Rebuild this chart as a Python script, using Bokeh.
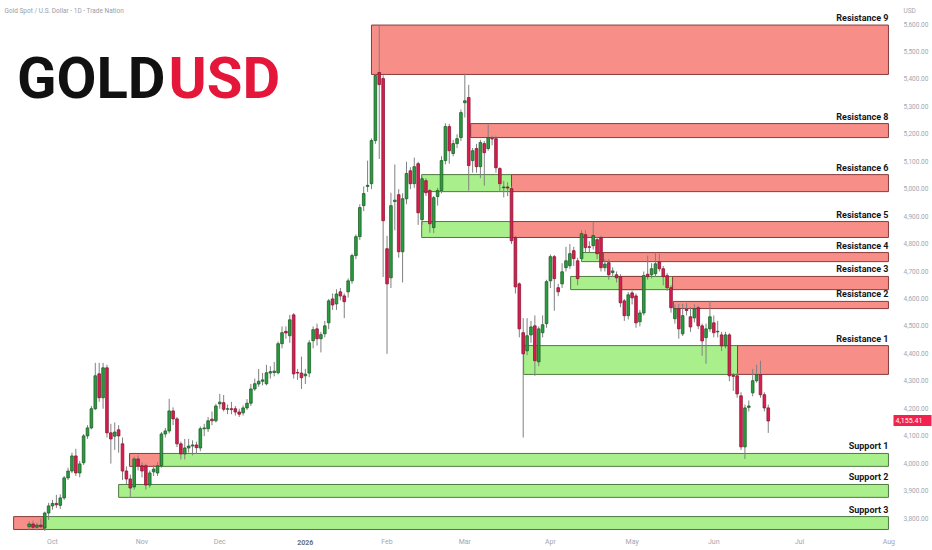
import pandas as pd
from bokeh.plotting import figure
from bokeh.models import ColumnDataSource, Range1d, FixedTicker, NumeralTickFormatter, Label, LinearAxis
from bokeh.core.properties import value
from bokeh.embed import file_html
from bokeh.resources import INLINE

# ---------------- data ----------------
holidays = ["2025-12-25", "2026-01-01", "2026-04-03"]
first_day = "2025-09-23"
last_day = "2026-06-19"

opens = [3770,3780,3768,3776,3765,3820,3846,3855,3848,3875,3948,3973,4028,3966,4003,4101,4130,4200,4327,4240,
         4349,4112,4100,4123,4072,3973,3944,3915,4017,3992,3992,3922,3970,3966,3992,4108,4119,4192,4163,4072,
         4035,4057,4064,4068,4057,4127,4127,4162,4156,4218,4222,4198,4200,4200,4188,4185,4203,4220,4272,4290,
         4300,4291,4330,4332,4331,4437,4482,4466,4542,4332,4330,4320,4330,4448,4491,4455,4473,4513,4600,4582,
         4626,4611,4626,4666,4758,4827,4940,5010,5020,5177,5425,5403,4783,4677,4955,4980,4772,4965,5067,5020,
         5093,4889,5031,4995,4860,4973,4995,5104,5228,5130,5166,5188,5315,5334,5104,5148,5082,5166,5148,5185,
         5184,5075,5005,5008,5002,4823,4655,4477,4411,4469,4502,4371,4477,4510,4666,4754,4641,4655,4714,4721,
         4776,4739,4747,4834,4790,4794,4816,4823,4714,4732,4696,4688,4681,4593,4539,4622,4611,4517,4549,4690,
         4688,4692,4735,4710,4685,4641,4528,4564,4473,4562,4535,4531,4568,4502,4459,4491,4513,4480,4469,4429,
         4469,4322,4320,4247,4061,4205,4258,4302,4324,4251,4203]
highs = [3790,3792,3785,3800,3825,3857,3868,3886,3888,3955,3985,4040,4054,4010,4108,4140,4210,4367,4367,4367,
         4360,4145,4150,4140,4095,3990,3960,4025,4030,4005,4000,3975,3995,4005,4115,4130,4236,4205,4170,4080,
         4090,4090,4085,4080,4135,4145,4170,4190,4218,4254,4250,4215,4225,4210,4200,4212,4235,4290,4310,4345,
         4330,4360,4355,4370,4445,4500,4500,4542,4548,4345,4390,4345,4450,4500,4510,4480,4520,4600,4620,4635,
         4640,4620,4675,4765,4835,4945,5010,5104,5185,5420,5598,5415,4830,4987,5090,5000,4985,5100,5080,5115,
         5100,5045,5040,5000,4975,5005,5120,5240,5238,5180,5200,5290,5421,5380,5150,5165,5180,5175,5235,5195,
         5195,5080,5030,5025,5010,4830,4660,4530,4530,4520,4540,4500,4540,4670,4762,4760,4655,4730,4790,4800,
         4790,4750,4850,4850,4810,4882,4825,4830,4745,4745,4715,4700,4690,4600,4625,4630,4620,4560,4700,4758,
         4730,4769,4765,4720,4695,4650,4580,4582,4582,4585,4570,4580,4575,4510,4510,4593,4540,4520,4480,4480,
         4475,4330,4330,4260,4215,4230,4345,4360,4375,4260,4215]
lows = [3758,3762,3757,3765,3755,3795,3832,3838,3835,3868,3940,3965,3955,3950,3995,4090,4125,4195,4225,4200,
        4095,4000,4050,4040,3940,3925,3875,3905,3975,3950,3905,3912,3955,3955,3985,4095,4110,4140,4060,4015,
        4015,4040,4030,4035,4045,4100,4115,4140,4150,4200,4190,4180,4180,4175,4170,4175,4195,4210,4265,4280,
        4285,4285,4310,4318,4325,4420,4455,4440,4310,4305,4272,4290,4315,4420,4430,4405,4460,4490,4560,4560,
        4595,4530,4605,4655,4745,4815,4920,4990,5000,5165,5110,4680,4400,4640,4850,4750,4660,4945,5000,5005,
        4870,4870,4975,4841,4840,4940,4985,5090,5093,5120,5150,5175,5261,4995,5060,5060,5040,5013,5140,5160,
        5060,4990,4970,4975,4800,4620,4460,4095,4395,4440,4320,4355,4460,4495,4640,4557,4610,4640,4700,4710,
        4720,4650,4740,4770,4770,4780,4745,4700,4700,4670,4680,4660,4570,4520,4525,4580,4495,4500,4540,4670,
        4675,4680,4700,4650,4630,4550,4510,4455,4465,4540,4480,4515,4490,4393,4364,4480,4460,4460,4410,4420,
        4300,4265,4240,4050,4017,4190,4245,4295,4240,4190,4112]
closes = [3780,3768,3776,3770,3820,3846,3855,3850,3875,3948,3973,4028,3966,3999,4101,4130,4200,4320,4240,4349,
          4112,4090,4115,4101,3973,3944,3911,4017,3992,3973,3922,3966,3980,3992,4108,4119,4192,4163,4072,4035,
          4057,4064,4068,4058,4127,4130,4156,4156,4210,4224,4198,4200,4197,4188,4180,4203,4220,4272,4291,4300,
          4305,4331,4335,4337,4437,4477,4476,4524,4327,4330,4313,4326,4440,4488,4455,4470,4502,4593,4578,4618,
          4611,4590,4666,4758,4827,4933,4984,5014,5177,5414,5381,4885,4655,4940,4960,4772,4965,5057,5020,5082,
          4914,5038,4987,4874,4969,4995,5104,5228,5140,5166,5184,5279,5322,5086,5140,5082,5170,5133,5188,5183,
          5078,5020,5008,5004,4812,4644,4491,4400,4466,4498,4375,4491,4506,4663,4754,4674,4626,4699,4739,4765,
          4747,4674,4838,4787,4788,4831,4765,4714,4727,4688,4702,4677,4586,4539,4615,4604,4513,4549,4685,4681,
          4710,4728,4710,4681,4641,4568,4564,4491,4539,4558,4498,4564,4502,4447,4491,4535,4477,4482,4429,4469,
          4320,4318,4254,4061,4203,4210,4302,4324,4251,4203,4155.41]

month_labels = ["Oct", "Nov", "Dec", "2026", "Feb", "Mar", "Apr", "May", "Jun", "Jul", "Aug"]
year_label = "2026"
price_ticks = list(range(3800, 5601, 100))
currency = "USD"
last_price = 4155.41

zone_names = ["Resistance 9", "Resistance 8", "", "Resistance 6", "", "Resistance 5", "", "Resistance 4",
              "", "", "Resistance 3", "Resistance 2", "", "Resistance 1", "", "Support 1", "Support 2", "", "Support 3"]
zone_kind = ["r", "r", "g", "r", "g", "r", "g", "r", "g", "r", "r", "r", "g", "r", "r", "g", "g", "r", "g"]
zone_start = [82, 107.5, 94.9, 118, 94.9, 118, 136, 141.6, 133.2, 146, 159.4, 159.6, 121.1, 176.1, 19.8, 27.8, 17, -10, -2.3]
zone_end = [214.9, 214.9, 118, 214.9, 118, 214.9, 141.6, 214.9, 159.4, 151.9, 214.9, 214.9, 176.1, 214.9, 27.8, 214.9, 214.9, -2.3, 214.9]
zone_top = [5598, 5239, 5053, 5053, 4882, 4882, 4769, 4769, 4682, 4682, 4682, 4591, 4430, 4430, 4037, 4037, 3924, 3807, 3807]
zone_bottom = [5418, 5188, 4991, 4991, 4824, 4824, 4736, 4736, 4634, 4634, 4634, 4565, 4325, 4325, 3990, 3990, 3877, 3760, 3760]

# ---------------- calendar / index ----------------
days = pd.bdate_range("2025-09-15", "2026-08-31")
days = days[~days.isin(pd.to_datetime(holidays))]
pos = {d: i for i, d in enumerate(days)}
origin = pos[pd.Timestamp("2025-10-01")]
cdays = days[(days >= pd.Timestamp(first_day)) & (days <= pd.Timestamp(last_day))]
idx = [pos[d] - origin for d in cdays]
assert len(idx) == len(opens) == len(highs) == len(lows) == len(closes)

month_ticks = []
for m in pd.period_range("2025-10", "2026-08", freq="M"):
    first = days[(days.year == m.year) & (days.month == m.month)][0]
    month_ticks.append(pos[first] - origin)

UP_FILL, UP_LINE = "#2a9c3f", "#1d5f27"
DN_FILL, DN_LINE = "#d81e50", "#8c1634"
WICK = "#808080"

src = ColumnDataSource(dict(
    x=idx, o=opens, h=highs, l=lows, c=closes,
    top=[max(a, b) for a, b in zip(opens, closes)],
    bot=[min(a, b) for a, b in zip(opens, closes)],
    fill=[UP_FILL if c >= o else DN_FILL for o, c in zip(opens, closes)],
    line=[UP_LINE if c >= o else DN_LINE for o, c in zip(opens, closes)],
))

RED_FILL, RED_LINE = "#f78f88", "#8a3c3c"
GRN_FILL, GRN_LINE = "#a9f08d", "#4f7a40"
zsrc = ColumnDataSource(dict(
    left=zone_start, right=zone_end, top=zone_top, bottom=zone_bottom,
    fill=[RED_FILL if k == "r" else GRN_FILL for k in zone_kind],
    line=[RED_LINE if k == "r" else GRN_LINE for k in zone_kind],
))
lab_src = ColumnDataSource(dict(
    x=[e for n, e in zip(zone_names, zone_end) if n],
    y=[t for n, t in zip(zone_names, zone_top) if n],
    t=[n for n in zone_names if n],
))

# ---------------- figure ----------------
W, H = 932, 550
FRAME_R, FRAME_B = 891, 532
X0_PX, PX_PER_BAR = 52.0, 3.89
Y0_PX, PX_PER_USD = 24.0, 494.0 / 1800.0
x_lo = (0 - X0_PX) / PX_PER_BAR
x_hi = (FRAME_R - X0_PX) / PX_PER_BAR
y_hi = 5600 + (Y0_PX - 0) / PX_PER_USD
y_lo = 5600 - (FRAME_B - Y0_PX) / PX_PER_USD
y_of_px = lambda py: 5600 - (py - Y0_PX) / PX_PER_USD

p = figure(width=W, height=H, x_range=Range1d(x_lo, x_hi), y_range=Range1d(y_lo, y_hi),
           output_backend="svg", toolbar_location=None, y_axis_location="right",
           min_border_left=0, min_border_top=0, min_border_right=W - FRAME_R, min_border_bottom=H - FRAME_B)
p.outline_line_color = None
p.background_fill_color = "white"
p.border_fill_color = "white"
p.xgrid.visible = False
p.ygrid.visible = False

def plain_axis(ax):
    ax.axis_line_color = None
    ax.major_tick_line_color = None
    ax.minor_tick_line_color = None
    ax.major_tick_out = 0
    ax.major_tick_in = 0
    ax.minor_tick_out = 0
    ax.minor_tick_in = 0
    ax.major_label_text_font = "Roboto"

for ax in (p.xaxis[0], p.yaxis[0]):
    plain_axis(ax)
    ax.major_label_text_color = "#a3a6af"

year_tick = month_ticks[month_labels.index(year_label)]
p.xaxis.ticker = FixedTicker(ticks=month_ticks)
p.xaxis.major_label_overrides = {t: (s if s != year_label else "") for t, s in zip(month_ticks, month_labels)}
p.xaxis.major_label_text_font_size = "7px"
p.xaxis.major_label_standoff = 5

# the year label is drawn darker, on its own axis pulled back onto the month row
year_axis = LinearAxis(ticker=FixedTicker(ticks=[year_tick]))
plain_axis(year_axis)
year_axis.major_label_overrides = {year_tick: year_label}
year_axis.major_label_text_font_size = "7px"
year_axis.major_label_text_font_style = "bold"
year_axis.major_label_text_color = "#6a6d78"
year_axis.major_label_standoff = -9
p.add_layout(year_axis, "below")

usd_tick = round(y_of_px(10))
p.yaxis.ticker = FixedTicker(ticks=price_ticks + [usd_tick])
p.yaxis.formatter = NumeralTickFormatter(format="0,0.00")
p.yaxis.major_label_overrides = {usd_tick: currency}
p.yaxis.major_label_text_font_size = "6.5px"
p.yaxis.major_label_standoff = 12

# last-price tag: a second right axis whose thick tick forms the red badge behind the label
tag_axis = LinearAxis(ticker=FixedTicker(ticks=[last_price]), formatter=NumeralTickFormatter(format="0,0.00"))
plain_axis(tag_axis)
tag_axis.major_tick_line_color = "#f2214e"
tag_axis.major_tick_line_width = 11
tag_axis.major_tick_in = 38
tag_axis.major_tick_out = 0
tag_axis.major_label_text_font_size = "7px"
tag_axis.major_label_text_color = "white"
tag_axis.major_label_standoff = -36
p.add_layout(tag_axis, "right")

p.quad(left="left", right="right", top="top", bottom="bottom", fill_color="fill", line_color="line",
       line_width=1, source=zsrc)
p.segment(x0="x", y0="l", x1="x", y1="h", line_color=WICK, line_width=1, source=src)
p.vbar(x="x", width=0.68, top="top", bottom="bot", fill_color="fill", line_color="line", line_width=0.8, source=src)

p.text(x="x", y="y", text="t", source=lab_src, text_align="right", text_baseline="bottom", y_offset=-2,
       text_font=value("Roboto"), text_font_style="bold", text_font_size="9px", text_color="#131722")

# header / logo
p.add_layout(Label(x=4, x_units="screen", y=y_of_px(10), text="Gold Spot / U.S. Dollar - 1D - Trade Nation",
                   text_font="Roboto", text_font_size="6.5px", text_color="#9a9da5", text_baseline="middle"))
logo_y = y_of_px(77)
p.add_layout(Label(x=165, x_units="screen", y=logo_y, text="GOLD", text_font="Roboto", text_font_style="bold",
                   text_font_size="58px", text_color="#111111", text_align="right", text_baseline="middle"))
p.add_layout(Label(x=168, x_units="screen", y=logo_y, text="USD", text_font="Roboto", text_font_style="bold",
                   text_font_size="58px", text_color="#e4163a", text_align="left", text_baseline="middle"))

open("out.html", "w").write(file_html(p, INLINE))
